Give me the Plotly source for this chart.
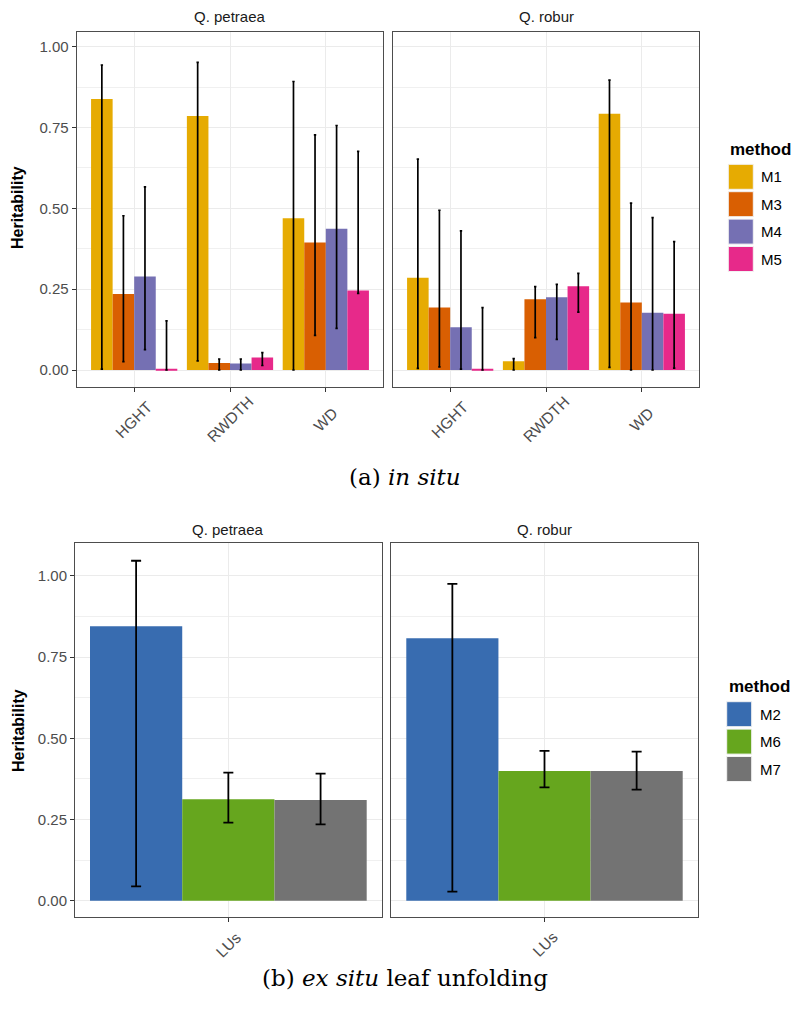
import plotly.graph_objects as go

# ---------------- data ----------------
traits = ["HGHT", "RWDTH", "WD"]
species = ["Q. petraea", "Q. robur"]
methods_a = ["M1", "M3", "M4", "M5"]
colors_a = ["#E6AB02", "#D95F02", "#7570B3", "#E7298A"]

# rows = methods (M1, M3, M4, M5), columns = traits (HGHT, RWDTH, WD)
petraea_h = [[0.838, 0.785, 0.469],
             [0.235, 0.022, 0.394],
             [0.289, 0.020, 0.437],
             [0.002, 0.039, 0.246]]
petraea_up = [[0.943, 0.951, 0.892],
              [0.477, 0.034, 0.727],
              [0.566, 0.034, 0.756],
              [0.152, 0.054, 0.676]]
petraea_lo = [[0.003, 0.028, 0.000],
              [0.026, 0.000, 0.107],
              [0.063, 0.000, 0.129],
              [0.000, 0.014, 0.237]]

robur_h = [[0.285, 0.027, 0.792],
           [0.193, 0.219, 0.209],
           [0.132, 0.225, 0.177],
           [0.002, 0.259, 0.174]]
robur_up = [[0.652, 0.035, 0.896],
            [0.494, 0.258, 0.516],
            [0.430, 0.265, 0.471],
            [0.193, 0.299, 0.397]]
robur_lo = [[0.005, 0.000, 0.008],
            [0.010, 0.100, 0.000],
            [0.003, 0.095, 0.000],
            [0.000, 0.179, 0.006]]

# ex situ leaf unfolding
trait_b = ["LUs"]
methods_b = ["M2", "M6", "M7"]
colors_b = ["#386CB0", "#66A61E", "#737373"]
lu_petraea_h = [0.845, 0.312, 0.310]
lu_petraea_up = [1.047, 0.394, 0.391]
lu_petraea_lo = [0.044, 0.240, 0.235]
lu_robur_h = [0.808, 0.399, 0.399]
lu_robur_up = [0.976, 0.461, 0.459]
lu_robur_lo = [0.028, 0.349, 0.342]

y_ticks = [0, 0.25, 0.5, 0.75, 1.0]

# ---------------- layout helpers ----------------
W, H = 800, 1016
def px(x):
    return x / W
def py(y):
    return 1 - y / H

SANS = "Liberation Sans, Arial, sans-serif"
SERIF = "DejaVu Serif, serif"
TICKC = "#4D4D4D"
BORDER = "#4D4D4D"
GRID = "#EBEBEB"

panels = {
    1: dict(x=(76.7, 383.3), y=(31.7, 386.7)),
    2: dict(x=(392.7, 699.3), y=(31.7, 386.7)),
    3: dict(x=(75.0, 381.7), y=(543.3, 916.7)),
    4: dict(x=(391.3, 697.7), y=(543.3, 916.7)),
}

fig = go.Figure()

# ---------------- in situ bars ----------------
bw_a = 0.9 / len(methods_a)
for s_idx, (hh, uu, ll) in enumerate([(petraea_h, petraea_up, petraea_lo),
                                       (robur_h, robur_up, robur_lo)]):
    ax = s_idx + 1
    for m_idx, m in enumerate(methods_a):
        vals = hh[m_idx]
        plus = [u - v for u, v in zip(uu[m_idx], vals)]
        minus = [v - l for v, l in zip(vals, ll[m_idx])]
        fig.add_trace(go.Bar(
            x=traits, y=vals, name=m,
            width=bw_a, offset=-0.45 + m_idx * bw_a,
            marker=dict(color=colors_a[m_idx], line=dict(width=0)),
            error_y=dict(type="data", symmetric=False, array=plus, arrayminus=minus,
                         color="black", thickness=1.7, width=1.2),
            xaxis="x" if ax == 1 else f"x{ax}",
            yaxis="y" if ax == 1 else f"y{ax}",
            showlegend=False,
        ))

# ---------------- ex situ bars ----------------
bw_b = 0.9 / len(methods_b)
for s_idx, (hh, uu, ll) in enumerate([(lu_petraea_h, lu_petraea_up, lu_petraea_lo),
                                       (lu_robur_h, lu_robur_up, lu_robur_lo)]):
    ax = s_idx + 3
    for m_idx, m in enumerate(methods_b):
        v = hh[m_idx]
        fig.add_trace(go.Bar(
            x=trait_b, y=[v], name=m,
            width=bw_b, offset=-0.45 + m_idx * bw_b,
            marker=dict(color=colors_b[m_idx], line=dict(width=0)),
            error_y=dict(type="data", symmetric=False,
                         array=[uu[m_idx] - v], arrayminus=[v - ll[m_idx]],
                         color="black", thickness=1.8, width=5),
            xaxis=f"x{ax}", yaxis=f"y{ax}",
            showlegend=False,
        ))

# ---------------- axes ----------------
layout_axes = {}
annotations = []
for k, p in panels.items():
    xs = "xaxis" if k == 1 else f"xaxis{k}"
    ys = "yaxis" if k == 1 else f"yaxis{k}"
    top = k <= 2
    xr = [-0.6, 2.6] if top else [-0.4988, 0.4988]
    yr = [-0.0516, 1.046] if top else [-0.0495, 1.1007]
    layout_axes[xs] = dict(
        domain=[px(p["x"][0]), px(p["x"][1])],
        anchor="y" if k == 1 else f"y{k}",
        type="category", range=xr,
        showgrid=True, gridcolor=GRID, gridwidth=1.3,
        showline=True, mirror=True, linecolor=BORDER, linewidth=1,
        ticks="outside", ticklen=4, tickcolor="#333333", tickwidth=1.2,
        showticklabels=False,
        zeroline=False, fixedrange=True,
    )
    layout_axes[ys] = dict(
        domain=[py(p["y"][1]), py(p["y"][0])],
        anchor="x" if k == 1 else f"x{k}",
        range=yr, tickvals=y_ticks, tickformat=".2f",
        showticklabels=(k in (1, 3)),
        ticks="outside" if k in (1, 3) else "",
        ticklen=4, tickcolor="#333333", tickwidth=1.2,
        tickfont=dict(family=SANS, size=15, color=TICKC),
        showgrid=True, gridcolor=GRID, gridwidth=1.3,
        minor=dict(tickvals=[0.125, 0.375, 0.625, 0.875], showgrid=True,
                   gridcolor="#F0F0F0", gridwidth=1, ticks=""),
        showline=True, mirror=True, linecolor=BORDER, linewidth=1,
        zeroline=False, fixedrange=True,
    )
    # rotated category labels, centred under each tick (ggplot style)
    cats = traits if top else trait_b
    label_y = 420 if top else 944
    xref = "x" if k == 1 else f"x{k}"
    for c in cats:
        annotations.append(dict(text=c, x=c, y=py(label_y), xref=xref, yref="paper",
                                xanchor="center", yanchor="middle", showarrow=False,
                                textangle=-45,
                                font=dict(family=SANS, size=15.5, color=TICKC)))

# facet titles
for k, p in panels.items():
    cx = px((p["x"][0] + p["x"][1]) / 2)
    ty = 16.7 if k <= 2 else 529
    annotations.append(dict(text=species[(k - 1) % 2], x=cx, y=py(ty), xref="paper", yref="paper",
                            xanchor="center", yanchor="middle", showarrow=False,
                            font=dict(family=SANS, size=15, color="#1A1A1A")))
# y axis titles
for cy in (208, 731):
    annotations.append(dict(text="<b>Heritability</b>", x=px(18), y=py(cy), xref="paper", yref="paper",
                            xanchor="center", yanchor="middle", showarrow=False, textangle=-90,
                            font=dict(family=SANS, size=16, color="black")))
# captions
annotations.append(dict(text="(a) <i>in situ</i>", x=px(405), y=py(477), xref="paper", yref="paper",
                        xanchor="center", yanchor="middle", showarrow=False,
                        font=dict(family=SERIF, size=23, color="black")))
annotations.append(dict(text="(b) <i>ex situ</i> leaf unfolding", x=px(405), y=py(978), xref="paper",
                        yref="paper", xanchor="center", yanchor="middle", showarrow=False,
                        font=dict(family=SERIF, size=23, color="black")))

# manual legends
shapes = []
def add_legend(title_y, key_x, key_top, names, cols):
    annotations.append(dict(text="<b>method</b>", x=px(key_x), y=py(title_y), xref="paper", yref="paper",
                            xanchor="left", yanchor="middle", showarrow=False,
                            font=dict(family=SANS, size=17, color="black")))
    for i, (n, c) in enumerate(zip(names, cols)):
        y0 = key_top + i * 27.4
        shapes.append(dict(type="rect", xref="paper", yref="paper",
                           x0=px(key_x), x1=px(key_x + 25), y0=py(y0 + 25), y1=py(y0),
                           fillcolor=c, line=dict(color="#F2F2F2", width=1)))
        annotations.append(dict(text=n, x=px(key_x + 31), y=py(y0 + 12.5), xref="paper", yref="paper",
                                xanchor="left", yanchor="middle", showarrow=False,
                                font=dict(family=SANS, size=15, color="black")))

add_legend(150, 728.3, 164.3, methods_a, colors_a)
add_legend(686.7, 726.7, 701.7, methods_b, colors_b)

fig.update_layout(
    width=W, height=H,
    margin=dict(l=0, r=0, t=0, b=0),
    paper_bgcolor="white", plot_bgcolor="white",
    showlegend=False,
    annotations=annotations, shapes=shapes,
    font=dict(family=SANS),
    **layout_axes,
)

fig.write_html("out.html", config={"displayModeBar": False},
               post_script="document.body.style.margin='0';")
